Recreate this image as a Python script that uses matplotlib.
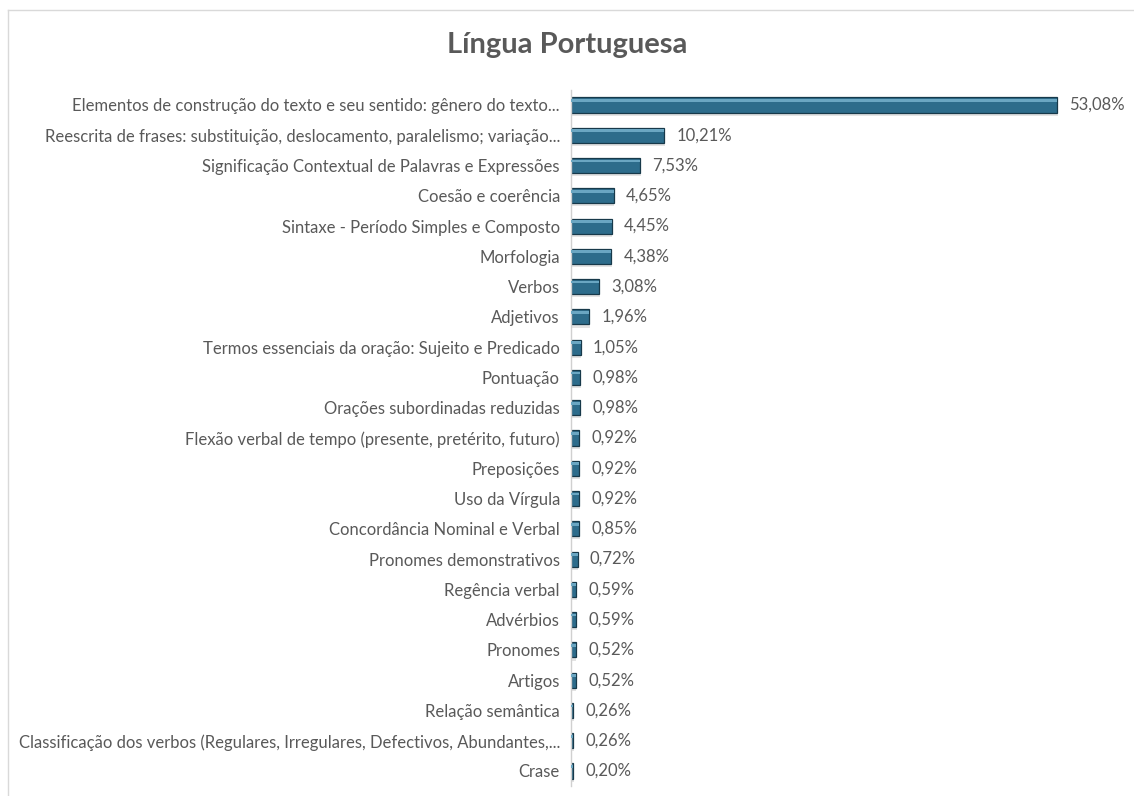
import matplotlib
matplotlib.use("Agg")
import matplotlib.pyplot as plt
from matplotlib.lines import Line2D

categories = [
    "Elementos de construção do texto e seu sentido: gênero do texto...",
    "Reescrita de frases: substituição, deslocamento, paralelismo; variação...",
    "Significação Contextual de Palavras e Expressões",
    "Coesão e coerência",
    "Sintaxe - Período Simples e Composto",
    "Morfologia",
    "Verbos",
    "Adjetivos",
    "Termos essenciais da oração: Sujeito e Predicado",
    "Pontuação",
    "Orações subordinadas reduzidas",
    "Flexão verbal de tempo (presente, pretérito, futuro)",
    "Preposições",
    "Uso da Vírgula",
    "Concordância Nominal e Verbal",
    "Pronomes demonstrativos",
    "Regência verbal",
    "Advérbios",
    "Pronomes",
    "Artigos",
    "Relação semântica",
    "Classificação dos verbos (Regulares, Irregulares, Defectivos, Abundantes,...",
    "Crase",
]
values = [53.08, 10.21, 7.53, 4.65, 4.45, 4.38, 3.08, 1.96, 1.05, 0.98, 0.98,
          0.92, 0.92, 0.92, 0.85, 0.72, 0.59, 0.59, 0.52, 0.52, 0.26, 0.26, 0.20]
title = "Língua Portuguesa"

plt.rcParams['font.family'] = ['Lato', 'DejaVu Sans']
W, H = 1134, 796
fig = plt.figure(figsize=(W/100, H/100), dpi=100)

ax_left, ax_right = 571, 1110
row_top, row_bot = 105, 771
n = len(values)
sp = (row_bot - row_top) / (n - 1)
top_px = row_top - sp/2
bot_px = row_bot + sp/2
ax = fig.add_axes([ax_left/W, 1 - bot_px/H, (ax_right-ax_left)/W, (bot_px-top_px)/H])
scale = (1057 - 571) / 53.08
ax.set_xlim(0, (ax_right-ax_left)/scale)
ax.set_ylim(n - 0.5, -0.5)

y = list(range(n))
h = 0.5
# soft shadow
ax.barh([v + 0.1 for v in y], values, height=h, color='#e3e3e3', left=0.08, zorder=1)
# main bar
ax.barh(y, values, height=h, color='#2d6c8b', edgecolor='#17394a', linewidth=0.9, zorder=2)
# top highlight
ax.barh([v - h*0.3 for v in y], values, height=h*0.18, color='#6aa6c2', linewidth=0, zorder=3)

txt = '#595959'
fs = 12
for yi, v in zip(y, values):
    ax.text(v + 1.35, yi, f"{v:.2f}%".replace('.', ','), va='center', ha='left',
            fontsize=fs, color=txt)

ax.set_yticks(y)
ax.set_yticklabels(categories, fontsize=fs, color=txt)
ax.tick_params(axis='y', length=0, pad=8)
ax.set_xticks([])
for s in ['top', 'right', 'bottom']:
    ax.spines[s].set_visible(False)
ax.spines['left'].set_color('#d0d0d0')
ax.spines['left'].set_linewidth(1)

fig.text(567/W, 1 - 45/H, title, ha='center', va='center', fontsize=21,
         fontweight='bold', color=txt)

fig.add_artist(Line2D([8/W, 8/W], [1 - 10/H, 0], color='#d9d9d9', lw=1))
fig.add_artist(Line2D([8/W, 1], [1 - 10/H, 1 - 10/H], color='#d9d9d9', lw=1))

fig.savefig('out.png', dpi=100)
